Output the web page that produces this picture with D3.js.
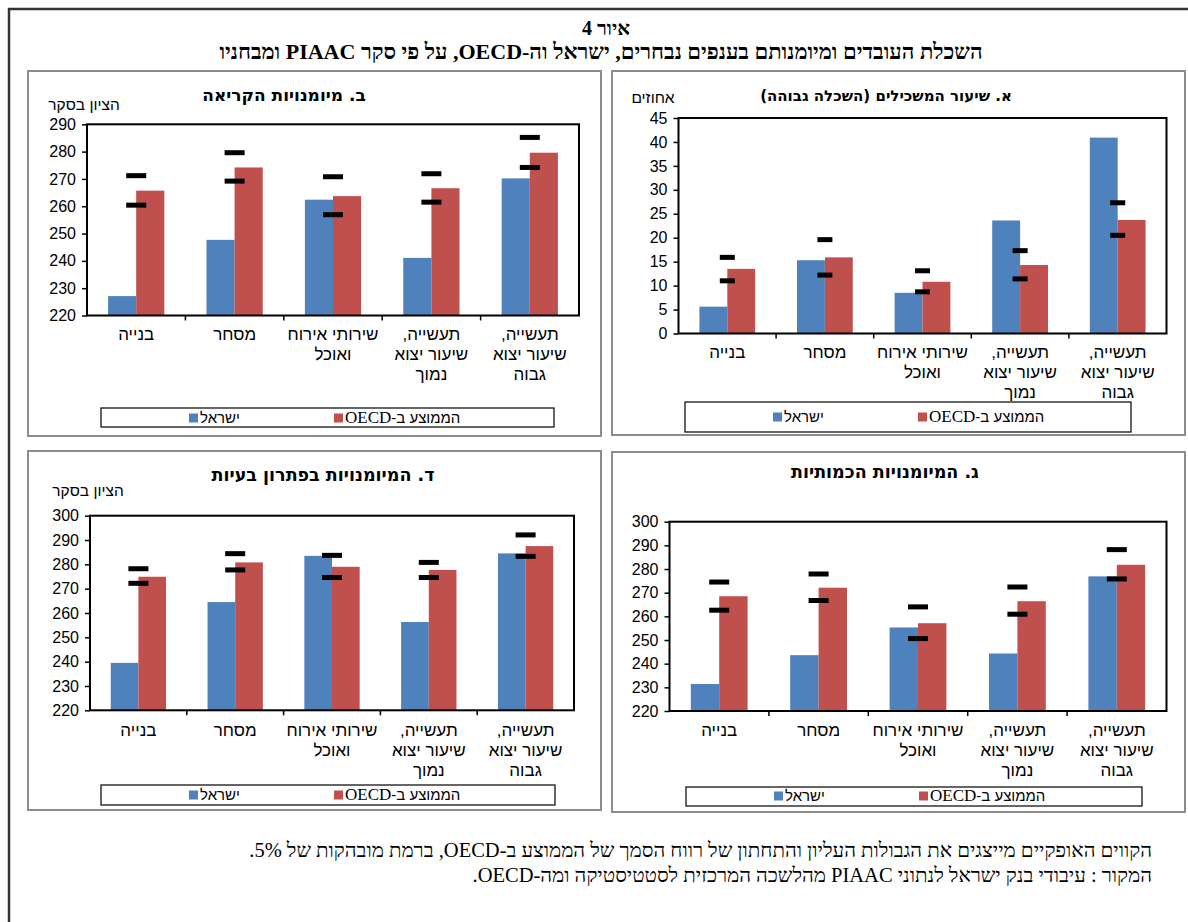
<!DOCTYPE html>
<html lang="he">
<head>
    <meta charset="UTF-8">
    <title>איור 4</title>
    <script src="https://d3js.org/d3.v7.min.js"></script>
    <style>
        body { margin: 0; background: #fff; }
        svg text { font-family: "Liberation Sans", "DejaVu Sans", sans-serif; fill: #000; }
        .serif { font-family: "Liberation Serif", "DejaVu Serif", serif; }
        .bold { font-family: "DejaVu Sans", sans-serif; font-weight: bold; }
        .tick text { font-size: 16px; }
    </style>
</head>
<body>
    <svg width="1188" height="922"></svg>
    <script>
        const categories = [
            ["בנייה"],
            ["מסחר"],
            ["שירותי אירוח", "ואוכל"],
            ["תעשייה,", "שיעור יצוא", "נמוך"],
            ["תעשייה,", "שיעור יצוא", "גבוה"]
        ];
        const seriesNames = ["ישראל", "הממוצע ב-"];

        // א. שיעור המשכילים (אחוזים)
        const eduIsrael = [5.6, 15.3, 8.5, 23.6, 40.9];
        const eduOecd = [13.5, 15.9, 10.8, 14.3, 23.7];
        const eduUpper = [15.9, 19.6, 13.1, 17.3, 27.3];
        const eduLower = [11.0, 12.2, 8.7, 11.4, 20.5];
        const eduTicks = [0, 5, 10, 15, 20, 25, 30, 35, 40, 45];

        // ב. מיומנויות הקריאה
        const readIsrael = [227.1, 247.7, 262.4, 241.1, 270.2];
        const readOecd = [265.7, 274.2, 263.7, 266.6, 279.6];
        const readUpper = [271.2, 279.6, 270.8, 271.9, 285.2];
        const readLower = [260.4, 269.2, 256.9, 261.5, 274.2];
        const readTicks = [220, 230, 240, 250, 260, 270, 280, 290];

        // ג. המיומנויות הכמותיות
        const numIsrael = [231.4, 243.6, 255.3, 244.3, 276.9];
        const numOecd = [268.5, 272.1, 257.1, 266.4, 281.8];
        const numUpper = [274.5, 277.9, 264.0, 272.4, 288.2];
        const numLower = [262.6, 266.7, 250.6, 260.9, 275.8];
        const numTicks = [220, 230, 240, 250, 260, 270, 280, 290, 300];

        // ד. המיומנויות בפתרון בעיות
        const probIsrael = [239.5, 264.5, 283.5, 256.3, 284.5];
        const probOecd = [274.9, 280.8, 279.0, 277.7, 287.5];
        const probUpper = [278.2, 284.4, 283.7, 280.8, 292.1];
        const probLower = [272.2, 277.7, 274.6, 274.6, 283.3];
        const probTicks = [220, 230, 240, 250, 260, 270, 280, 290, 300];

        const colors = ["#4F81BD", "#C0504D"];

        const panels = [
            {
                title: "א. שיעור המשכילים (השכלה גבוהה)", unit: "אחוזים", titleSize: 15,
                israel: eduIsrael, oecd: eduOecd, upper: eduUpper, lower: eduLower, ticks: eduTicks,
                frame: [612, 71, 1185, 435], plot: [678.5, 118, 1166.5, 333.5],
                titleX: 886, titleY: 101, unitX: 653, unitY: 103, labelY: 358, dashW: 15,
                legend: [685, 402, 1131, 432], legY: 417
            },
            {
                title: "ב. מיומנויות הקריאה", unit: "הציון בסקר", titleSize: 17,
                israel: readIsrael, oecd: readOecd, upper: readUpper, lower: readLower, ticks: readTicks,
                frame: [28, 71, 601, 436], plot: [87, 124.3, 579, 315.5],
                titleX: 284, titleY: 101, unitX: 84, unitY: 110, labelY: 340, dashW: 20,
                legend: [101, 408, 554, 427], legY: 418
            },
            {
                title: "ג. המיומנויות הכמותיות", unit: null, titleSize: 17.5,
                israel: numIsrael, oecd: numOecd, upper: numUpper, lower: numLower, ticks: numTicks,
                frame: [612, 452, 1185, 812], plot: [669.5, 521.7, 1166.5, 711],
                titleX: 885, titleY: 478, labelY: 736, dashW: 20,
                legend: [686, 787, 1142, 806], legY: 796
            },
            {
                title: "ד. המיומנויות בפתרון בעיות", unit: "הציון בסקר", titleSize: 17.5,
                israel: probIsrael, oecd: probOecd, upper: probUpper, lower: probLower, ticks: probTicks,
                frame: [28, 451, 601, 810], plot: [90, 515.7, 574, 710.3],
                titleX: 323, titleY: 481, unitX: 88, unitY: 496, labelY: 736, dashW: 20,
                legend: [101, 785, 555, 805], legY: 795
            }
        ];

        const svg = d3.select("svg");

        // outer page frame
        svg.append("path")
            .attr("d", "M9,930 V9 H1188")
            .attr("fill", "none")
            .attr("stroke", "#333")
            .attr("stroke-width", 2.5);

        svg.append("text")
            .attr("class", "serif")
            .attr("x", 606).attr("y", 35)
            .attr("text-anchor", "middle")
            .attr("font-size", 20).attr("font-weight", "bold")
            .text("איור 4");

        svg.append("text")
            .attr("class", "serif")
            .attr("direction", "rtl")
            .attr("x", 601).attr("y", 59)
            .attr("text-anchor", "middle")
            .attr("font-size", 22).attr("font-weight", "bold")
            .text("השכלת העובדים ומיומנותם בענפים נבחרים, ישראל וה-OECD, על פי סקר PIAAC ומבחניו");

        panels.forEach(p => {
            const [fx0, fy0, fx1, fy1] = p.frame;
            const [x0, y0, x1, y1] = p.plot;
            const g = svg.append("g");

            g.append("rect")
                .attr("x", fx0).attr("y", fy0)
                .attr("width", fx1 - fx0).attr("height", fy1 - fy0)
                .attr("fill", "#fff")
                .attr("stroke", "#8c8c8c")
                .attr("stroke-width", 2);

            g.append("text")
                .attr("class", "bold")
                .attr("direction", "rtl")
                .attr("x", p.titleX).attr("y", p.titleY)
                .attr("text-anchor", "middle")
                .attr("font-size", p.titleSize)
                .text(p.title);

            if (p.unit) {
                g.append("text")
                    .attr("direction", "rtl")
                    .attr("x", p.unitX).attr("y", p.unitY)
                    .attr("text-anchor", "middle")
                    .attr("font-size", 15.5)
                    .text(p.unit);
            }

            const x = d3.scaleBand()
                .domain(d3.range(categories.length))
                .range([x0, x1])
                .paddingInner(1.5 / 3.5)
                .paddingOuter(0.75 / 3.5);

            const xs = d3.scaleBand()
                .domain([0, 1])
                .range([0, x.bandwidth()]);

            const y = d3.scaleLinear()
                .domain(d3.extent(p.ticks))
                .range([y1, y0]);

            const base = d3.min(p.ticks);
            const rows = categories.map((c, i) => ({i, vals: [p.israel[i], p.oecd[i]], up: p.upper[i], lo: p.lower[i]}));

            // bars
            rows.forEach(r => {
                g.selectAll(null)
                    .data(r.vals)
                    .enter().append("rect")
                    .attr("x", (v, s) => x(r.i) + xs(s))
                    .attr("y", v => y(v))
                    .attr("width", xs.bandwidth())
                    .attr("height", v => y(base) - y(v))
                    .attr("fill", (v, s) => colors[s]);
            });

            // confidence interval dashes
            rows.forEach(r => {
                g.selectAll(null)
                    .data([r.up, r.lo])
                    .enter().append("rect")
                    .attr("x", x(r.i) + x.bandwidth() / 2 - p.dashW / 2)
                    .attr("y", v => y(v) - 2.5)
                    .attr("width", p.dashW)
                    .attr("height", 5)
                    .attr("fill", "#000");
            });

            // y axis
            const ax = g.append("g")
                .attr("transform", `translate(${x0},0)`)
                .call(d3.axisLeft(y).tickValues(p.ticks).tickSize(5).tickPadding(6));
            ax.select(".domain").remove();
            ax.selectAll(".tick line").attr("stroke", "#000").attr("stroke-width", 1.5);
            ax.selectAll(".tick text").attr("fill", "#000");

            // category divider ticks
            g.selectAll(null)
                .data(d3.range(1, categories.length))
                .enter().append("line")
                .attr("x1", i => x(i) - x.step() * x.paddingInner() / 2)
                .attr("x2", i => x(i) - x.step() * x.paddingInner() / 2)
                .attr("y1", y1).attr("y2", y1 + 5)
                .attr("stroke", "#000").attr("stroke-width", 1.5);

            // plot frame
            g.append("rect")
                .attr("x", x0).attr("y", y0)
                .attr("width", x1 - x0).attr("height", y1 - y0)
                .attr("fill", "none")
                .attr("stroke", "#000")
                .attr("stroke-width", 2);

            // category labels
            const lab = g.selectAll(null)
                .data(categories)
                .enter().append("text")
                .attr("direction", "rtl")
                .attr("text-anchor", "middle")
                .attr("font-size", 17);
            lab.each(function(lines, i) {
                d3.select(this).selectAll("tspan")
                    .data(lines)
                    .enter().append("tspan")
                    .attr("x", x(i) + x.bandwidth() / 2)
                    .attr("y", (l, k) => p.labelY + k * 20)
                    .text(l => l);
            });

            // legend
            const [lx0, ly0, lx1, ly1] = p.legend;
            g.append("rect")
                .attr("x", lx0).attr("y", ly0)
                .attr("width", lx1 - lx0).attr("height", ly1 - ly0)
                .attr("fill", "#fff")
                .attr("stroke", "#000").attr("stroke-width", 1.2);

            const offs = [88, 233];
            seriesNames.forEach((name, s) => {
                const sx = lx0 + offs[s];
                g.append("rect")
                    .attr("x", sx).attr("y", p.legY - 4.5)
                    .attr("width", 9).attr("height", 9)
                    .attr("fill", colors[s]);
                const t = g.append("text")
                    .attr("direction", "rtl")
                    .attr("x", sx + 11).attr("y", p.legY + 5)
                    .attr("text-anchor", "end")
                    .attr("font-size", 15);
                t.append("tspan").text(name);
                if (s === 1) t.append("tspan").attr("class", "serif").attr("font-size", 17).text("OECD");
            });
        });

        // footnotes
        const notes = [
            "הקווים האופקיים מייצגים את הגבולות העליון והתחתון של רווח הסמך של הממוצע ב-OECD, ברמת מובהקות של 5%.",
            "המקור : עיבודי בנק ישראל לנתוני PIAAC מהלשכה המרכזית לסטטיסטיקה ומה-OECD."
        ];
        svg.selectAll(".note")
            .data(notes)
            .enter().append("text")
            .attr("class", "note serif")
            .attr("direction", "rtl")
            .attr("x", 1152)
            .attr("y", (d, i) => 857 + i * 25)
            .attr("text-anchor", "start")
            .attr("font-size", 20.5)
            .text(d => d);
    </script>
</body>
</html>
